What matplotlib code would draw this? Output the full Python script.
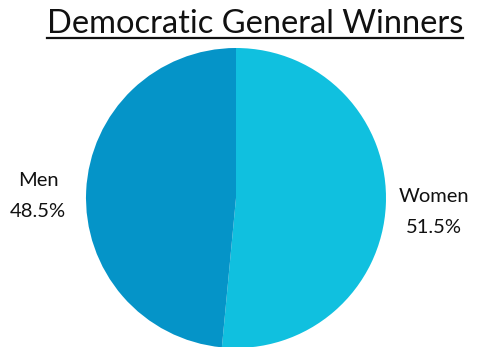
import matplotlib
matplotlib.use("Agg")
import matplotlib.pyplot as plt
from matplotlib.lines import Line2D
from matplotlib.transforms import offset_copy

# winners by gender
labels = ["Women", "Men"]
shares = [51.5, 48.5]
colors = ["#10c0df", "#0594c8"]
title = "Democratic General Winners"

plt.rcParams['font.family'] = ['Lato', 'DejaVu Sans']

W, H = 478, 347
fig = plt.figure(figsize=(W / 100, H / 100), dpi=100)

# pie centre (236, 198) px from top-left, radius 150 px
cx, cy, r = 236, 198, 150
ax = fig.add_axes([(cx - r) / W, (H - cy - r) / H, 2 * r / W, 2 * r / H])

texts = [f"{l}\n{v}%" for l, v in zip(labels, shares)]
wedges, lbls = ax.pie(shares, labels=texts, colors=colors, startangle=90,
                      counterclock=False, radius=1.0, labeldistance=1.32,
                      wedgeprops={'linewidth': 0},
                      textprops={'fontsize': 14.5, 'ha': 'center', 'va': 'center',
                                 'color': '#111111', 'linespacing': 2.0})
# nudge the labels down a little
for lb, dy in zip(lbls, [-5, -7]):
    lb.set_transform(offset_copy(ax.transData, fig=fig, x=0, y=dy, units='dots'))

ax.set_xlim(-1, 1)
ax.set_ylim(-1, 1)
ax.set_aspect('auto')

t = fig.text(255 / W, 1 - 33 / H, title, ha='center', va='baseline',
             fontsize=23.5, color='#111111')

# underline below the title
fig.canvas.draw()
bb = t.get_window_extent()
y_ul = 1 - 38 / H
fig.add_artist(Line2D([bb.x0 / W, bb.x1 / W], [y_ul, y_ul],
                      transform=fig.transFigure, color='#111111', lw=1.6))

fig.savefig("out.png", dpi=100)
